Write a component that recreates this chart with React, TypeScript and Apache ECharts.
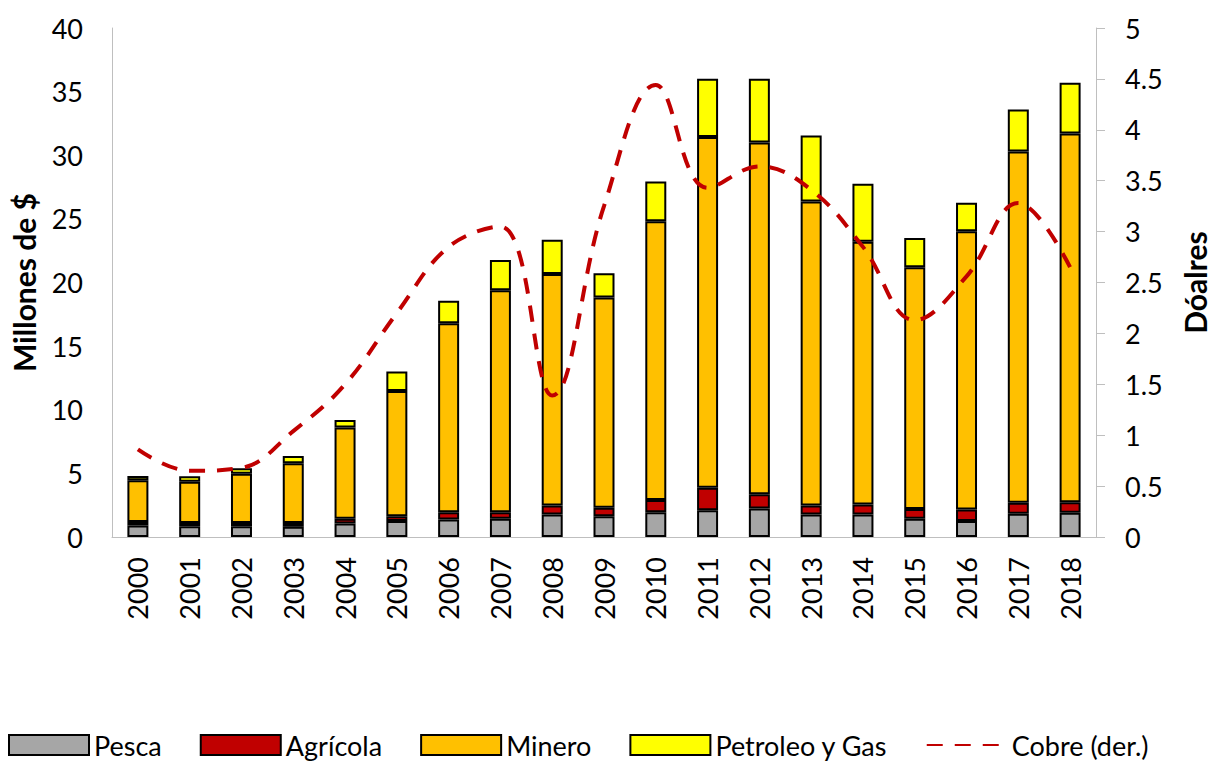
import React, { useEffect, useRef } from "react";
import * as echarts from "echarts";

const years = ["2000","2001","2002","2003","2004","2005","2006","2007","2008","2009","2010","2011","2012","2013","2014","2015","2016","2017","2018"];
const pesca = [0.9,0.85,0.85,0.8,1.06,1.25,1.38,1.43,1.77,1.64,1.95,2.11,2.24,1.77,1.77,1.43,1.25,1.83,1.9];
const agricola = [0.28,0.25,0.25,0.3,0.37,0.39,0.57,0.52,0.71,0.66,0.95,1.76,1.11,0.71,0.79,0.77,0.92,0.87,0.84];
const minero = [3.27,3.25,3.87,4.7,7.17,9.84,14.84,17.45,18.19,16.53,21.92,27.56,27.65,23.88,20.65,19.0,21.86,27.6,28.96];
const petroleo = [0.35,0.43,0.43,0.56,0.6,1.52,1.78,2.37,2.68,1.89,3.12,4.59,5.02,5.2,4.55,2.3,2.23,3.3,4.0];
const cobre = [0.86,0.65,0.68,1.04,1.5,2.2,2.85,3.05,1.39,3.25,4.44,3.43,3.64,3.41,2.85,2.13,2.56,3.28,2.65];

const FONT = "Lato";

export default function App() {
  const ref = useRef<HTMLDivElement>(null);
  useEffect(() => {
    if (!ref.current) return;
    const chart = echarts.init(ref.current, null, { renderer: "svg" });
    const barBase = {
      type: "bar",
      stack: "total",
      barWidth: 21,
      itemStyle: { borderColor: "#000", borderWidth: 2 },
    };
    chart.setOption({
      animation: false,
      backgroundColor: "#fff",
      textStyle: { fontFamily: FONT },
      grid: { left: 112, right: 112, top: 28, bottom: 224, containLabel: false },
      legend: {
        left: 8,
        top: 731,
        padding: 0,
        itemWidth: 80,
        itemHeight: 20,
        itemGap: 38,
        textStyle: { fontFamily: FONT, fontSize: 27, lineHeight: 28, color: "#000" },
        data: [
          { name: "Pesca", icon: "rect" },
          { name: "Agrícola", icon: "rect" },
          { name: "Minero", icon: "rect" },
          { name: "Petroleo y Gas", icon: "rect" },
          { name: "Cobre (der.)", itemStyle: { opacity: 0 } },
        ],
      },
      xAxis: {
        type: "category",
        data: years,
        axisLine: { lineStyle: { color: "#BFBFBF", width: 1 } },
        axisTick: { show: false },
        axisLabel: { rotate: 90, margin: 20, fontSize: 27, color: "#000", fontFamily: FONT },
      },
      yAxis: [
        {
          type: "value",
          min: 0,
          max: 40,
          interval: 5,
          name: "Millones de $",
          nameLocation: "middle",
          nameRotate: 90,
          nameGap: 73,
          nameTextStyle: { fontSize: 30, fontWeight: "bold", color: "#000", fontFamily: FONT },
          axisLine: { show: true, lineStyle: { color: "#BFBFBF", width: 1 } },
          axisTick: { show: false },
          splitLine: { show: false },
          axisLabel: { margin: 29, fontSize: 27, color: "#000", fontFamily: FONT },
        },
        {
          type: "value",
          min: 0,
          max: 5,
          interval: 0.5,
          position: "right",
          name: "Dóalres",
          nameLocation: "middle",
          nameRotate: 90,
          nameGap: 84,
          nameTextStyle: { fontSize: 30, fontWeight: "bold", color: "#000", fontFamily: FONT },
          axisLine: { show: true, lineStyle: { color: "#BFBFBF", width: 1 } },
          axisTick: { show: true, length: 9, lineStyle: { color: "#BFBFBF" } },
          splitLine: { show: false },
          axisLabel: { margin: 29, fontSize: 27, color: "#000", fontFamily: FONT },
        },
      ],
      series: [
        { ...barBase, name: "Pesca", data: pesca, itemStyle: { ...barBase.itemStyle, color: "#A6A6A6" } },
        { ...barBase, name: "Agrícola", data: agricola, itemStyle: { ...barBase.itemStyle, color: "#C00000" } },
        { ...barBase, name: "Minero", data: minero, itemStyle: { ...barBase.itemStyle, color: "#FFC000" } },
        { ...barBase, name: "Petroleo y Gas", data: petroleo, itemStyle: { ...barBase.itemStyle, color: "#FFFF00" } },
        {
          type: "line",
          name: "Cobre (der.)",
          yAxisIndex: 1,
          data: cobre,
          smooth: 0.4,
          symbol: "none",
          itemStyle: { color: "#C00000" },
          lineStyle: { color: "#C00000", width: 4, type: [16, 12] },
          z: 5,
        },
      ],
    });
    return () => chart.dispose();
  }, []);
  return (
    <div
      ref={ref}
      style={{ position: "absolute", left: 0, top: 0, width: 1218, height: 761 }}
    />
  );
}
